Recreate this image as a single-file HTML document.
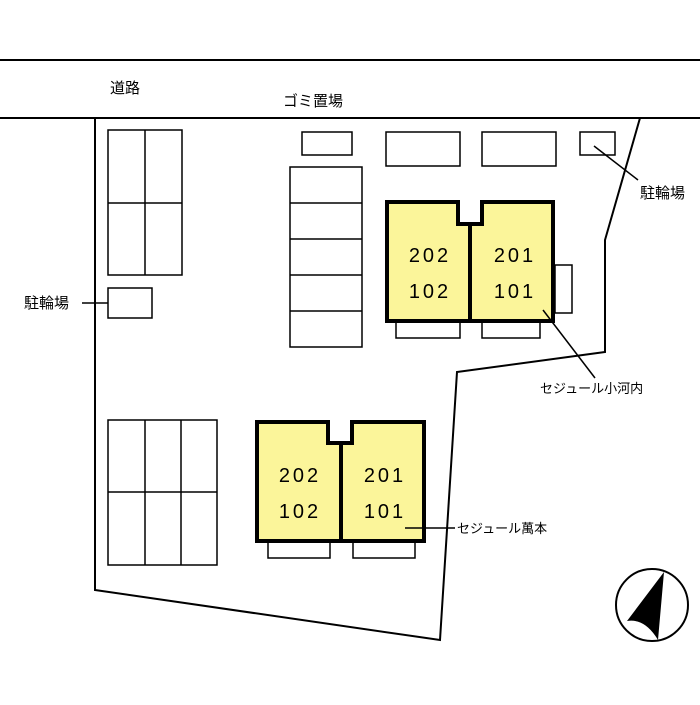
<!DOCTYPE html><html><head><style>body{margin:0;background:#fff}</style></head><body>
<svg width="700" height="700" xmlns="http://www.w3.org/2000/svg" font-family="Liberation Sans, Noto Sans CJK JP, sans-serif">
<g fill="none" stroke="#000" stroke-width="2">
<line x1="0" y1="60" x2="700" y2="60"/><line x1="0" y1="118" x2="700" y2="118"/>
<polyline points="95,118 95,590 440,640 457,372 605,352 605,240 640,118"/>
</g>
<g fill="#fff" stroke="#000" stroke-width="1.5">
<rect x="108" y="130" width="74" height="145"/><line x1="145" y1="130" x2="145" y2="275"/><line x1="108" y1="203" x2="182" y2="203"/>
<rect x="108" y="288" width="44" height="30"/>
<rect x="108" y="420" width="109" height="145"/><line x1="145" y1="420" x2="145" y2="565"/><line x1="181" y1="420" x2="181" y2="565"/><line x1="108" y1="492" x2="217" y2="492"/>
<rect x="290" y="167" width="72" height="180"/><line x1="290" y1="203" x2="362" y2="203"/><line x1="290" y1="239" x2="362" y2="239"/><line x1="290" y1="275" x2="362" y2="275"/><line x1="290" y1="311" x2="362" y2="311"/>
<rect x="302" y="132" width="50" height="23"/>
<rect x="386" y="132" width="74" height="34"/><rect x="482" y="132" width="74" height="34"/><rect x="580" y="132" width="35" height="23"/>
<rect x="555" y="265" width="17" height="48"/>
<rect x="396" y="322" width="64" height="16"/><rect x="482" y="322" width="58" height="16"/>
<rect x="268" y="542" width="62" height="16"/><rect x="353" y="542" width="62" height="16"/>
</g>
<g fill="#fbf59a" stroke="#000" stroke-width="4">
<polygon points="387,202 458,202 458,224 482,224 482,202 553,202 553,321 387,321"/>
<line x1="470" y1="224" x2="470" y2="321"/>
<polygon points="257,422 328,422 328,443 352,443 352,422 424,422 424,541 257,541"/>
<line x1="341" y1="443" x2="341" y2="541"/>
</g>
<g stroke="#000" stroke-width="1.5">
<line x1="82" y1="303" x2="108" y2="303"/>
<line x1="594" y1="146" x2="638" y2="180"/>
<line x1="543" y1="310" x2="595" y2="378"/>
<line x1="405" y1="528" x2="455" y2="528"/>
</g>
<g font-size="20" text-anchor="middle" letter-spacing="3">
<text x="430" y="262">202</text><text x="430" y="298">102</text>
<text x="515" y="262">201</text><text x="515" y="298">101</text>
<text x="300" y="482">202</text><text x="300" y="518">102</text>
<text x="385" y="482">201</text><text x="385" y="518">101</text>
</g>
<g font-size="15">
<text x="110" y="93">道路</text>
<text x="283" y="106">ゴミ置場</text>
<text x="640" y="198">駐輪場</text>
<text x="24" y="308">駐輪場</text>
<text x="540" y="393" font-size="13">セジュール小河内</text>
<text x="457" y="533" font-size="13">セジュール萬本</text>
</g>
<circle cx="652" cy="605" r="36" fill="none" stroke="#000" stroke-width="2"/>
<path d="M664,572 L627,621 Q645,618 658,640 Z" fill="#000"/>
</svg></body></html>
